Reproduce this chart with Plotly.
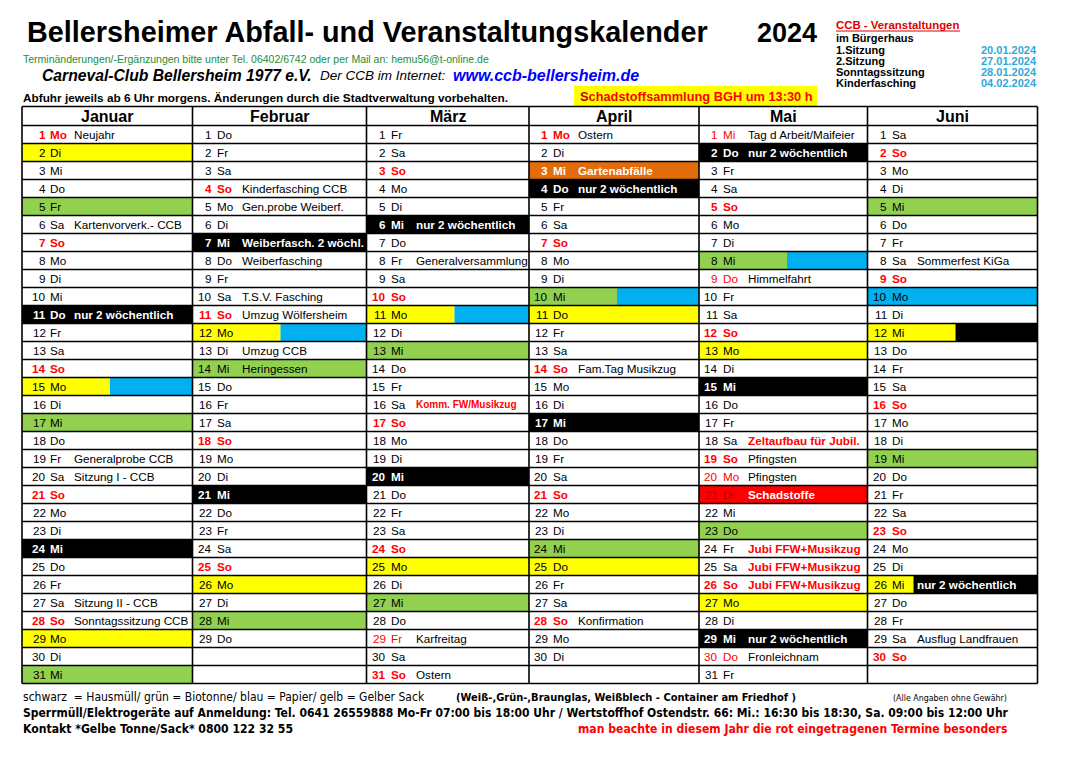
import datetime
import plotly.graph_objects as go

# Daten
jahr = 2024
monate = ["Januar", "Februar", "März", "April", "Mai", "Juni"]
tage_im_monat = [31, 29, 31, 30, 31, 30]
wochentage = ["Mo", "Di", "Mi", "Do", "Fr", "Sa", "So"]

# Abfuhr: S = schwarz (Hausmüll), B = grün (Biotonne), P = blau (Papier),
# G = gelb (Gelber Sack), O = Gartenabfälle, R = Schadstoffe; "x/y" = geteilte Zelle
abfuhr_jan = {2: "G", 5: "B", 11: "S", 15: "G/P", 17: "B", 24: "S", 29: "G", 31: "B"}
abfuhr_feb = {7: "S", 12: "G/P", 14: "B", 21: "S", 26: "G", 28: "B"}
abfuhr_mar = {6: "S", 11: "G/P", 13: "B", 20: "S", 25: "G", 27: "B"}
abfuhr_apr = {3: "O", 4: "S", 10: "B/P", 11: "G", 17: "S", 24: "B", 25: "G"}
abfuhr_mai = {2: "S", 8: "B/P", 13: "G", 15: "S", 21: "R", 23: "B", 27: "G", 29: "S"}
abfuhr_jun = {5: "B", 10: "P", 12: "G/S", 19: "B", 26: "G/S"}
abfuhr = [abfuhr_jan, abfuhr_feb, abfuhr_mar, abfuhr_apr, abfuhr_mai, abfuhr_jun]

termine_jan = {1: "Neujahr", 6: "Kartenvorverk.- CCB", 11: "nur 2 wöchentlich",
               19: "Generalprobe CCB", 20: "Sitzung I - CCB", 27: "Sitzung II - CCB",
               28: "Sonntagssitzung CCB"}
termine_feb = {4: "Kinderfasching CCB", 5: "Gen.probe Weiberf.", 7: "Weiberfasch. 2 wöchl.",
               8: "Weiberfasching", 10: "T.S.V. Fasching", 11: "Umzug Wölfersheim",
               13: "Umzug CCB", 14: "Heringessen"}
termine_mar = {6: "nur 2 wöchentlich", 8: "Generalversammlung", 16: "Komm. FW/Musikzug",
               29: "Karfreitag", 31: "Ostern"}
termine_apr = {1: "Ostern", 3: "Gartenabfälle", 4: "nur 2 wöchentlich",
               14: "Fam.Tag Musikzug", 28: "Konfirmation"}
termine_mai = {1: "Tag d Arbeit/Maifeier", 2: "nur 2 wöchentlich", 9: "Himmelfahrt",
               18: "Zeltaufbau für Jubil.", 19: "Pfingsten", 20: "Pfingsten",
               21: "Schadstoffe", 24: "Jubi FFW+Musikzug", 25: "Jubi FFW+Musikzug",
               26: "Jubi FFW+Musikzug", 29: "nur 2 wöchentlich", 30: "Fronleichnam"}
termine_jun = {8: "Sommerfest KiGa", 26: "nur 2 wöchentlich", 29: "Ausflug Landfrauen"}
termine = [termine_jan, termine_feb, termine_mar, termine_apr, termine_mai, termine_jun]

# Feiertage (rot), davon fett gedruckt; rot eingetragene Termine
feiertage = {0: [1], 2: [29], 3: [1], 4: [1, 9, 20, 30]}
feiertage_fett = {0: [1], 3: [1]}
rote_termine = {2: [16], 4: [18, 24, 25, 26]}
klein_termine = {2: [16]}

ccb_termine = ["1.Sitzung", "2.Sitzung", "Sonntagssitzung", "Kinderfasching"]
ccb_daten = ["20.01.2024", "27.01.2024", "28.01.2024", "04.02.2024"]

# Layout
W, H = 1083, 765
SPALTEN = [22, 192.5, 366.5, 529, 699, 867.5, 1037.5]
KOPF_OBEN = 106.5
ZEILE_OBEN = 125.5
ZEILE_H = 18
FARBEN = {"S": "#000000", "B": "#92D050", "P": "#00B0F0", "G": "#FFFF00",
          "O": "#E36C0A", "R": "#FF0000"}
ROT = "#FF0000"
FONT = "Liberation Sans, Arial, sans-serif"
NARROW = "Liberation Sans Narrow, Arial Narrow, DejaVu Sans Condensed, Liberation Sans, sans-serif"
SZ = 11.7

shapes = []
annotations = []


def text(x, y, s, size=SZ, color="black", anchor="left", family=FONT):
    annotations.append(dict(x=x, y=y, xref="x", yref="y", text=s, showarrow=False,
                            xanchor=anchor, yanchor="middle", borderpad=0, borderwidth=0,
                            font=dict(family=family, size=size, color=color)))


def rect(x0, x1, y0, y1, color):
    shapes.append(dict(type="rect", xref="x", yref="y", x0=x0, x1=x1, y0=y0, y1=y1,
                       fillcolor=color, line=dict(width=0), layer="below"))


def line(x0, y0, x1, y1, color="black", width=1.3):
    shapes.append(dict(type="line", xref="x", yref="y", x0=x0, y0=y0, x1=x1, y1=y1,
                       line=dict(color=color, width=width), layer="above"))


# Kalender
for m, name in enumerate(monate):
    links, rechts = SPALTEN[m], SPALTEN[m + 1]
    text((links + rechts) / 2, (KOPF_OBEN + ZEILE_OBEN) / 2, "<b>%s</b>" % name, size=16,
         anchor="center")
    off_nr = 23.5 if m == 0 else 19
    off_wt = 27.5 if m == 0 else 24
    off_tx = 52 if m == 0 else 49
    for d in range(1, tage_im_monat[m] + 1):
        y0 = ZEILE_OBEN + (d - 1) * ZEILE_H
        ym = y0 + ZEILE_H / 2
        code = abfuhr[m].get(d, "")
        teile = code.split("/") if code else []
        if len(teile) == 2:
            split = links + (46 if (m == 5 and d == 26) else 88)
            rect(links, split, y0, y0 + ZEILE_H, FARBEN[teile[0]])
            rect(split, rechts, y0, y0 + ZEILE_H, FARBEN[teile[1]])
        elif teile:
            rect(links, rechts, y0, y0 + ZEILE_H, FARBEN[teile[0]])
        links_code = teile[0] if teile else ""
        rechts_code = teile[-1] if teile else ""

        wt = wochentage[datetime.date(jahr, m + 1, d).weekday()]
        fett = False
        farbe = "black"
        if wt == "So" or d in feiertage.get(m, []):
            farbe = ROT
            fett = wt == "So" or d in feiertage_fett.get(m, [])
        if links_code in ("S", "O"):
            farbe, fett = "white", True
        if links_code == "R":
            farbe, fett = "#C00000", False
        nr_txt = "<b>%d</b>" % d if fett else str(d)
        wt_txt = "<b>%s</b>" % wt if fett else wt
        text(links + off_nr, ym, nr_txt, color=farbe, anchor="right")
        text(links + off_wt, ym, wt_txt, color=farbe)

        ev = termine[m].get(d)
        if ev:
            size = SZ
            if rechts_code in ("S", "O", "R"):
                ev_txt, ev_col = "<b>%s</b>" % ev, "white"
            elif d in rote_termine.get(m, []):
                ev_txt, ev_col = "<b>%s</b>" % ev, ROT
                if d in klein_termine.get(m, []):
                    size = 10
            else:
                ev_txt, ev_col = ev, "black"
            text(links + off_tx, ym, ev_txt, size=size, color=ev_col)

# Gitterlinien
unten = ZEILE_OBEN + 31 * ZEILE_H
for x in SPALTEN:
    line(x, KOPF_OBEN, x, unten, width=1.6)
line(SPALTEN[0], KOPF_OBEN, SPALTEN[-1], KOPF_OBEN, width=1.6)
for r in range(32):
    line(SPALTEN[0], ZEILE_OBEN + r * ZEILE_H, SPALTEN[-1], ZEILE_OBEN + r * ZEILE_H,
         width=1.6 if r in (0, 31) else 1.3)

# Kopfbereich
text(27, 32, "<b>Bellersheimer Abfall- und Veranstaltungskalender</b>", size=28.8)
text(757, 33, "<b>2024</b>", size=27)
text(23, 59, "Terminänderungen/-Ergänzungen bitte unter Tel. 06402/6742 oder per Mail an: "
     "hemu56@t-online.de", size=10.5, color="#1E8C3A")
text(42, 75, "<b><i>Carneval-Club Bellersheim 1977 e.V.</i></b>", size=15.7)
text(320, 75.5, "<i>Der CCB im Internet:</i>", size=13.5)
text(453, 75, "<b><i>www.ccb-bellersheim.de</i></b>", size=16, color="#0000FF")
text(23, 98, "<b>Abfuhr jeweils ab 6 Uhr morgens. Änderungen durch die Stadtverwaltung "
     "vorbehalten.</b>", size=11.8)
rect(574, 817, 86, 106, "#FFFF00")
text(580, 96.5, "<b><span style='color:#C00000'>S</span>chadstoffsammlung BGH um 13:30 h</b>",
     size=12.8, color=ROT)

text(836, 25, "<b>CCB - Veranstaltungen</b>", size=11.4, color="#E00000")
line(836, 31, 960, 31, color="#E00000", width=1)
text(836, 38, "<b>im Bürgerhaus</b>", size=11)
for i, (t, dt) in enumerate(zip(ccb_termine, ccb_daten)):
    y = 49.5 + i * 11
    text(836, y, "<b>%s</b>" % t, size=11)
    text(1037, y, "<b>%s</b>" % dt, size=11, color="#31A8D8", anchor="right")

# Fußzeilen
text(23, 697, "schwarz  = Hausmüll/ grün = Biotonne/ blau = Papier/ gelb = Gelber Sack",
     size=12, family=NARROW)
text(456, 697, "<b>(Weiß-,Grün-,Braunglas, Weißblech - Container am Friedhof )</b>",
     size=11, family=NARROW)
text(893, 698, "(Alle Angaben ohne Gewähr)", size=8.8, family=NARROW)
text(23, 713, "<b>Sperrmüll/Elektrogeräte auf Anmeldung: Tel. 0641 26559888 Mo-Fr 07:00 bis "
     "18:00 Uhr / Wertstoffhof Ostendstr. 66: Mi.: 16:30 bis 18:30, Sa. 09:00 bis 12:00 Uhr</b>",
     size=12, family=NARROW)
text(23, 729, "<b>Kontakt *Gelbe Tonne/Sack* 0800 122 32 55</b>", size=12.1, family=NARROW)
text(578, 729, "<b>man beachte in diesem Jahr die rot eingetragenen Termine besonders</b>",
     size=12.1, family=NARROW, color=ROT)

fig = go.Figure()
fig.add_trace(go.Scatter(x=[0, W], y=[0, H], mode="markers", marker=dict(opacity=0),
                         hoverinfo="skip", showlegend=False))
fig.update_layout(
    width=W, height=H,
    margin=dict(l=0, r=0, t=0, b=0),
    paper_bgcolor="white", plot_bgcolor="white",
    xaxis=dict(range=[0, W], visible=False, fixedrange=True),
    yaxis=dict(range=[H, 0], visible=False, fixedrange=True),
    shapes=shapes, annotations=annotations,
    showlegend=False,
)
fig.write_html("out.html", config={"displayModeBar": False},
               post_script="document.body.style.margin='0';")
